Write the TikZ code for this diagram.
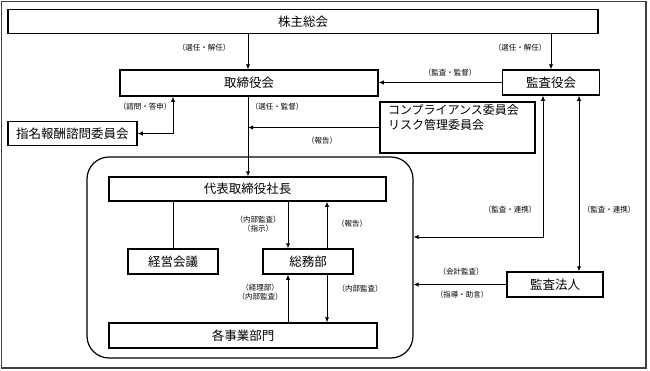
\documentclass[tikz,border=0pt]{standalone}
\usepackage{fontspec}
\setmainfont{Noto Sans CJK JP}
\usetikzlibrary{arrows.meta}
\begin{document}
\begin{tikzpicture}[x=1pt,y=-1pt,
 box/.style={draw, line width=1.5pt, inner sep=0pt, font=\fontsize{12.5}{14}\selectfont},
 lbl/.style={inner sep=0pt, font=\fontsize{7.5}{9}\selectfont, align=center},
 conn/.style={line width=0.9pt},
 arr/.style={conn, -{Latex[length=5pt,width=4.5pt]}},
 arrb/.style={conn, {Latex[length=5pt,width=4.5pt]}-{Latex[length=5pt,width=4.5pt]}}]
\useasboundingbox (0,0) rectangle (650,370);
\draw[line width=1.2pt, black!75] (1.5,1.5) rectangle (646,368);

% boxes
\node[box, minimum width=590pt, minimum height=24pt] (kabu) at (303,21.5) {株主総会};
\node[box, minimum width=258pt, minimum height=26pt] (tori) at (249,83) {取締役会};
\node[box, minimum width=97pt, minimum height=25pt] (kansa) at (551,82.5) {監査役会};
\node[box, minimum width=129pt, minimum height=24pt] (shimei) at (72.5,133.5) {指名報酬諮問委員会};
\node[box, minimum width=155pt, minimum height=51pt, font=\fontsize{12}{14}\selectfont] (comp) at (457.5,127.5)
  {\parbox[c][51pt][t]{139pt}{\vspace{2pt}\baselineskip=15pt コンプライアンス委員会\\リスク管理委員会}};
\node[draw, line width=1.2pt, rounded corners=22pt, minimum width=326pt, minimum height=201pt] (grp) at (250,257.5) {};
\node[box, minimum width=277pt, minimum height=24pt] (shacho) at (247.5,189) {代表取締役社長};
\node[box, minimum width=90pt, minimum height=25pt] (keiei) at (173,261.5) {経営会議};
\node[box, minimum width=90pt, minimum height=25pt] (somu) at (308,261.5) {総務部};
\node[box, minimum width=268pt, minimum height=25pt] (jigyo) at (243,335.5) {各事業部門};
\node[box, minimum width=96pt, minimum height=25pt] (hojin) at (555,284.5) {監査法人};

% helper coordinates
\coordinate (xa) at (173,0);
\coordinate (xb) at (543,0);
\coordinate (xc) at (579,0);
\coordinate (xd) at (288,0);
\coordinate (xe) at (327,0);
\coordinate (ya) at (0,237);
\coordinate (xf) at (248,0);

% connectors
\draw[arr] (kabu.south -| xf) -- (tori.north -| xf);
\draw[arr] (kabu.south -| kansa.north) -- (kansa.north);
\draw[arr] (kansa.west) -- (tori.east |- kansa.west);
\draw[arrb] (shimei.east) -| (tori.south -| xa);
\draw[arr] (tori.south -| xf) -- (shacho.north -| xf);
\draw[arr] (comp.west) -- (comp.west -| xf);
\draw[arrb] (kansa.south -| xb) |- (grp.east |- ya);
\draw[arrb] (kansa.south -| xc) -- (hojin.north -| xc);
\draw[arr] (hojin.west) -- (hojin.west -| grp.east);
\draw[conn] (keiei.north) -- (keiei.north |- shacho.south);
\draw[arr] (shacho.south -| xd) -- (somu.north -| xd);
\draw[arr] (somu.north -| xe) -- (shacho.south -| xe);
\draw[arr] (jigyo.north -| xd) -- (somu.south -| xd);
\draw[arr] (somu.south -| xe) -- (jigyo.north -| xe);

% labels
\node[lbl] (l1) at (204,48) {（選任・解任）};
\node[lbl] (l2) at (520,48) {（選任・解任）};
\node[lbl] (l3) at (450,73) {（監査・監督）};
\node[lbl] (l4) at (145,107) {（諮問・答申）};
\node[lbl] (l5) at (277,107) {（選任・監督）};
\node[lbl] (l6) at (322,141) {（報告）};
\node[lbl] (l7) at (510,210) {（監査・連携）};
\node[lbl] (l8) at (609,210) {（監査・連携）};
\node[lbl] (l9) at (461,272) {（会計監査）};
\node[lbl] (l10) at (462,295) {（指導・助言）};
\node[lbl] (l11) at (258,224) {（内部監査）\\（指示）};
\node[lbl] (l12) at (352,224) {（報告）};
\node[lbl] (l13) at (260,292) {（経理部）\\（内部監査）};
\node[lbl] (l14) at (360,289) {（内部監査）};
\end{tikzpicture}
\end{document}
